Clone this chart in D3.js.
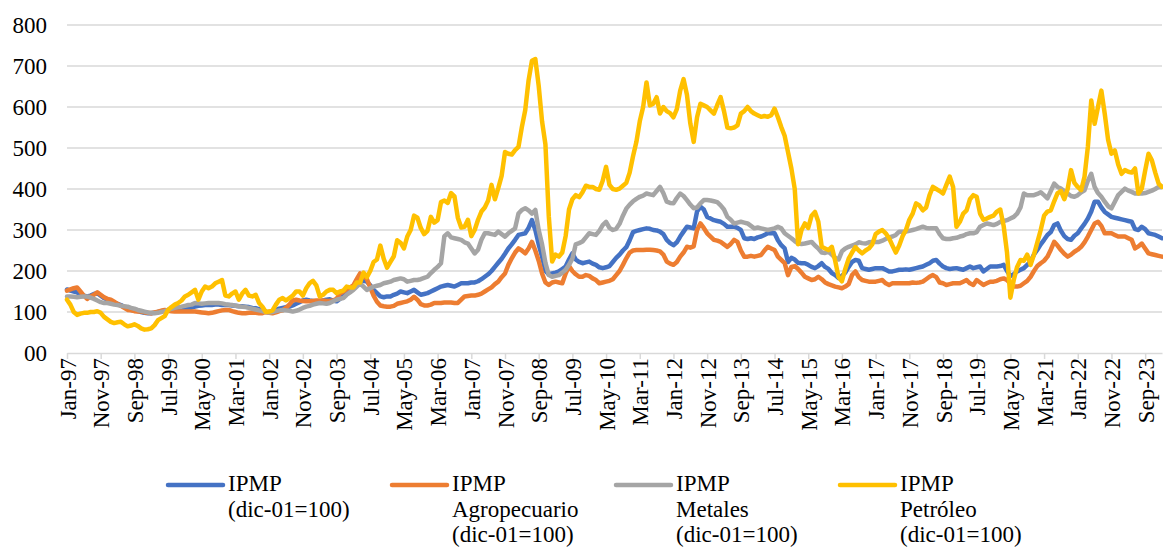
<!DOCTYPE html>
<html>
<head>
<meta charset="utf-8">
<script src="https://cdn.jsdelivr.net/npm/d3@7"></script>
<style>
  body { margin: 0; background: #fff; }
  text { font-family: "Liberation Serif", "Times New Roman", serif; fill: #000; }
</style>
</head>
<body>
<svg id="chart"></svg>
<script>
// monthly values, Jan-97 .. Feb-24
var ipmp = [
  155,152,150,148,142,140,138,140,144,146,140,134,
  130,126,122,120,117,112,108,105,104,102,100,98,
  97,97,98,100,102,104,105,106,107,108,109,110,
  109,111,113,115,116,117,117,117,118,118,117,117,
  117,116,115,114,114,113,112,110,109,107,104,100,
  100,102,105,108,110,112,113,116,120,124,128,130,
  128,127,126,126,128,130,131,128,126,132,138,148,
  155,162,172,178,176,174,165,154,146,138,136,138,
  138,142,145,150,148,146,150,154,148,142,144,146,
  150,154,158,162,164,166,164,162,166,170,170,170,
  172,172,175,180,186,192,200,210,220,230,242,255,
  265,276,288,290,292,305,324,300,265,235,200,192,
  194,196,199,205,211,228,243,228,222,219,221,223,
  218,215,209,207,209,212,222,232,240,250,258,275,
  295,298,300,302,304,303,300,299,296,290,276,268,
  263,270,284,296,308,306,304,345,357,350,332,328,
  324,322,320,315,308,308,308,305,300,280,278,280,
  278,282,284,288,292,292,292,275,263,255,222,232,
  228,220,219,219,215,210,207,212,219,210,205,195,
  190,183,188,196,210,222,227,225,207,205,203,205,
  207,207,207,203,199,199,201,203,203,204,203,205,
  207,209,211,215,219,225,227,218,211,207,205,206,
  207,205,203,207,211,207,209,211,199,205,211,211,
  211,212,215,200,188,192,199,203,207,215,223,240,
  252,265,276,288,295,312,316,298,285,278,276,286,
  292,304,315,328,345,369,369,355,344,338,332,330,
  328,326,324,322,320,302,300,308,302,292,290,288,
  284,280
];

var agro = [
  152,155,158,160,150,140,132,138,142,148,142,136,
  132,130,125,120,115,110,105,104,102,101,101,99,
  98,97,99,101,103,105,103,102,101,101,101,101,
  101,101,101,100,99,98,97,98,100,102,104,105,
  105,102,100,98,97,97,98,99,98,97,97,100,
  98,97,99,102,104,110,118,128,130,128,127,126,
  126,127,128,128,128,127,127,128,132,145,150,155,
  160,165,180,194,188,180,160,140,125,116,114,113,
  113,115,120,122,124,126,130,137,130,119,116,116,
  118,122,122,122,123,123,123,122,122,130,138,139,
  140,140,142,145,150,155,160,168,174,185,194,215,
  231,245,255,250,243,255,271,250,225,194,172,166,
  172,174,172,170,194,212,200,192,186,186,190,188,
  182,178,170,172,174,176,180,190,200,215,231,245,
  250,251,251,251,252,252,251,250,248,240,223,218,
  215,222,235,245,259,257,260,300,316,305,292,284,
  276,274,271,265,259,266,276,271,250,235,235,237,
  235,237,239,250,259,255,251,235,227,219,190,210,
  212,205,196,186,182,178,180,186,180,172,168,165,
  162,160,158,162,168,190,199,185,178,176,174,174,
  174,176,178,170,166,170,170,170,170,170,170,172,
  171,172,174,180,186,190,185,172,170,166,168,170,
  170,170,174,178,170,166,178,172,166,170,174,174,
  176,180,182,178,170,162,162,164,170,176,186,200,
  212,219,225,235,252,271,262,251,242,235,240,247,
  252,259,270,284,300,316,320,310,292,292,292,288,
  284,284,284,280,276,255,260,267,255,243,241,239,
  237,235
];

var metales = [
  138,138,137,136,137,138,138,135,132,128,124,122,
  122,120,118,117,115,114,113,110,108,105,103,101,
  99,98,97,98,100,102,105,108,110,112,113,115,
  117,118,122,121,120,121,122,122,122,122,121,119,
  118,117,115,114,113,112,110,108,106,104,102,100,
  99,100,102,104,105,104,103,101,103,106,110,113,
  115,118,120,122,121,120,122,126,130,132,134,142,
  148,154,162,170,162,154,158,162,164,166,170,172,
  174,178,180,182,180,174,176,178,178,180,183,186,
  195,203,210,219,285,292,282,280,278,276,270,267,
  255,243,252,276,292,292,290,288,296,290,284,292,
  298,304,340,349,353,348,340,349,300,265,220,190,
  186,188,190,196,203,215,230,265,268,272,282,292,
  290,288,298,312,320,305,300,303,315,335,352,362,
  370,376,381,384,389,387,385,395,405,390,369,366,
  365,378,389,383,373,362,353,355,365,373,373,372,
  370,368,360,350,332,325,316,318,320,318,316,310,
  304,306,304,302,300,302,304,308,304,292,286,280,
  273,267,266,267,269,271,262,255,245,244,247,240,
  232,228,248,255,259,262,265,270,268,267,270,271,
  271,271,274,278,282,284,288,296,296,296,298,300,
  302,305,308,305,304,304,304,290,280,278,278,280,
  281,284,286,290,292,292,295,308,312,316,314,312,
  315,320,322,324,328,332,340,355,389,385,385,385,
  388,392,385,377,395,413,405,401,395,389,383,381,
  385,392,397,420,437,405,390,381,369,358,353,369,
  385,393,401,396,393,389,389,389,390,393,396,400,
  405,405
];

var petroleo = [
  130,118,100,93,96,98,98,100,100,102,98,88,
  82,76,73,75,76,70,65,67,70,66,60,57,
  58,60,68,80,85,90,105,112,118,122,128,138,
  142,148,154,130,150,162,158,162,170,174,178,140,
  138,145,150,130,145,154,140,138,142,122,113,100,
  101,104,118,130,134,128,134,140,150,150,140,158,
  170,176,165,138,142,150,154,154,146,150,152,162,
  160,160,172,172,196,185,200,222,228,262,230,208,
  222,236,275,269,255,284,300,335,330,305,290,298,
  332,318,324,368,372,366,390,382,330,306,308,325,
  285,300,325,345,355,372,410,375,402,432,490,486,
  484,495,503,551,592,665,713,717,652,565,509,333,
  223,240,235,245,285,350,375,385,380,392,408,405,
  405,400,398,420,454,410,400,398,401,408,415,440,
  480,515,565,600,660,604,608,624,584,600,590,585,
  575,595,640,668,630,560,515,575,608,604,600,592,
  584,605,624,590,550,548,550,555,584,590,600,590,
  584,580,576,578,576,580,596,575,551,530,490,450,
  400,265,300,316,305,335,344,320,259,255,251,259,
  225,185,175,205,230,245,258,250,243,250,255,265,
  290,296,300,292,280,262,245,262,285,300,325,340,
  365,360,348,355,385,405,400,395,389,410,430,405,
  308,320,340,348,375,385,381,340,325,328,332,335,
  345,350,310,245,135,178,210,227,225,240,215,240,
  270,300,335,345,348,370,390,395,375,400,446,415,
  405,397,430,503,616,559,600,640,584,520,486,494,
  460,437,446,442,440,450,389,401,445,486,470,440,
  413,405
];

var legendLabels = [
  ["IPMP", "(dic-01=100)"],
  ["IPMP", "Agropecuario", "(dic-01=100)"],
  ["IPMP", "Metales", "(dic-01=100)"],
  ["IPMP", "Petróleo", "(dic-01=100)"]
];

var yTickValues = [0, 100, 200, 300, 400, 500, 600, 700, 800];
var yTickLabels = ["00", "100", "200", "300", "400", "500", "600", "700", "800"];

var xTickLabels = ["Jan-97", "Nov-97", "Sep-98", "Jul-99", "May-00", "Mar-01", "Jan-02",
  "Nov-02", "Sep-03", "Jul-04", "May-05", "Mar-06", "Jan-07", "Nov-07", "Sep-08", "Jul-09",
  "May-10", "Mar-11", "Jan-12", "Nov-12", "Sep-13", "Jul-14", "May-15", "Mar-16", "Jan-17",
  "Nov-17", "Sep-18", "Jul-19", "May-20", "Mar-21", "Jan-22", "Nov-22", "Sep-23"];

var months = d3.timeMonth.range(new Date(1997, 0, 1), new Date(2024, 2, 1));

var width = 1163, height = 547;
var svg = d3.select('#chart').attr('width', width).attr('height', height);

var plotLeft = 67, plotRight = 1162, plotTop = 25, plotBottom = 353;

var x = d3.scalePoint()
  .domain(d3.range(months.length))
  .range([plotLeft, plotRight]);

var y = d3.scaleLinear()
  .domain([0, 800])
  .range([plotBottom, plotTop]);

// gridlines
svg.append('g')
  .selectAll('line')
  .data(yTickValues.slice(1))
  .enter().append('line')
    .attr('x1', plotLeft).attr('x2', plotRight)
    .attr('y1', function(d) { return y(d); })
    .attr('y2', function(d) { return y(d); })
    .attr('stroke', '#d9d9d9')
    .attr('stroke-width', 1.5);

// y labels
svg.append('g')
  .selectAll('text')
  .data(yTickValues)
  .enter().append('text')
    .attr('x', 47)
    .attr('y', function(d) { return y(d); })
    .attr('dy', '0.35em')
    .attr('text-anchor', 'end')
    .style('font-size', '23px')
    .text(function(d, i) { return yTickLabels[i]; });

// x axis
var xAxis = svg.append('g')
  .attr('transform', 'translate(0,' + plotBottom + ')')
  .call(d3.axisBottom(x)
    .tickValues(d3.range(0, months.length, 10))
    .tickSize(6)
    .tickSizeOuter(0)
    .tickFormat(function(d, i) { return xTickLabels[i]; }));

xAxis.select('.domain').attr('stroke', '#d9d9d9').attr('stroke-width', 1.5);
xAxis.selectAll('.tick line').attr('stroke', '#d9d9d9').attr('stroke-width', 1.5);
xAxis.selectAll('.tick text')
  .attr('transform', 'rotate(-90)')
  .attr('x', -5)
  .attr('y', 0)
  .attr('dy', '0.35em')
  .attr('text-anchor', 'end')
  .attr('fill', '#000')
  .style('font-size', '23px')
  .style('font-family', '"Liberation Serif", "Times New Roman", serif');

// series
var series = [
  {values: ipmp, color: '#4472c4'},
  {values: agro, color: '#ed7d31'},
  {values: metales, color: '#a5a5a5'},
  {values: petroleo, color: '#ffc000'}
];

var line = d3.line()
  .x(function(d, i) { return x(i); })
  .y(function(d) { return y(d); });

svg.append('g')
  .selectAll('path')
  .data(series)
  .enter().append('path')
    .attr('d', function(d) { return line(d.values); })
    .attr('fill', 'none')
    .attr('stroke', function(d) { return d.color; })
    .attr('stroke-width', 4.5)
    .attr('stroke-linejoin', 'round')
    .attr('stroke-linecap', 'round');

// legend
var legend = svg.append('g')
  .selectAll('g')
  .data(series)
  .enter().append('g')
    .attr('transform', function(d, i) { return 'translate(' + (168 + i * 224) + ',0)'; });

legend.append('line')
  .attr('x1', 0).attr('x2', 55)
  .attr('y1', 485).attr('y2', 485)
  .attr('stroke', function(d) { return d.color; })
  .attr('stroke-width', 4.5)
  .attr('stroke-linecap', 'round');

legend.each(function(d, i) {
  d3.select(this).selectAll('text')
    .data(legendLabels[i])
    .enter().append('text')
      .attr('x', 60)
      .attr('y', function(t, j) { return 491 + j * 25.5; })
      .style('font-size', '23px')
      .text(function(t) { return t; });
});
</script>
</body>
</html>
